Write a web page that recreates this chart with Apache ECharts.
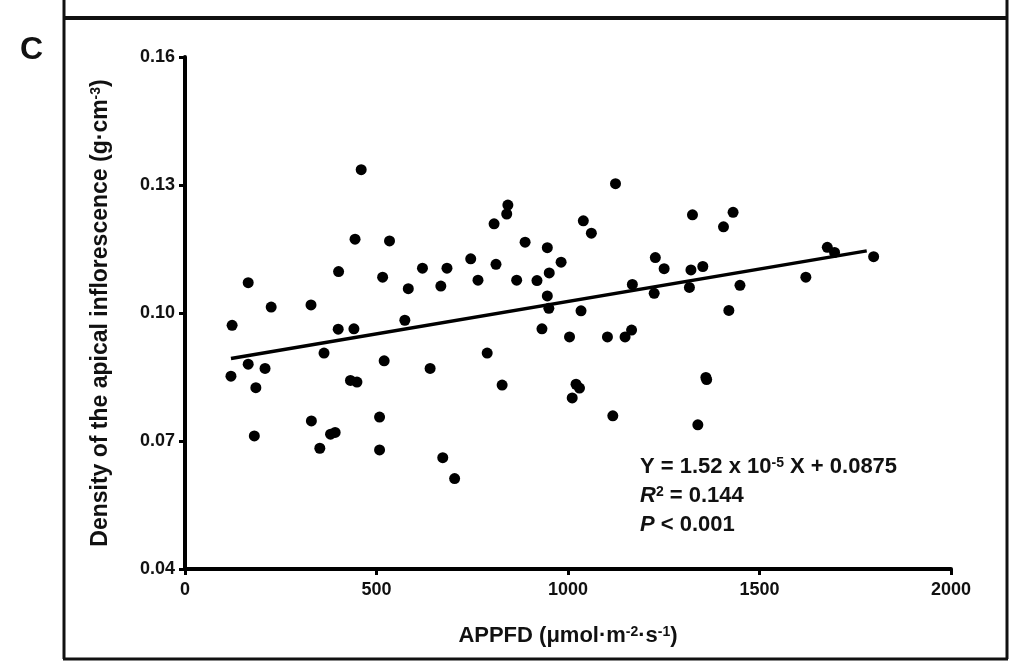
<!DOCTYPE html>
<html>
<head>
<meta charset="utf-8">
<script src="https://cdn.jsdelivr.net/npm/echarts@6/dist/echarts.min.js"></script>
<style>
html,body{margin:0;padding:0;background:#fff;}
#chart{width:1013px;height:671px;}
</style>
</head>
<body>
<div id="chart"></div>
<script>
// APPFD (x) values of the points
var appfd = [123,120,165,165,185,181,209,225,329,330,352,363,380,392,401,400,432,449,444,441,460,516,520,508,508,534,574,583,620,640,668,684,673,704,746,765,789,807,812,828,840,843,866,888,919,932,946,946,950,951,982,1004,1011,1021,1030,1034,1040,1061,1103,1117,1124,1149,1166,1168,1225,1228,1251,1317,1321,1325,1339,1352,1360,1362,1420,1406,1431,1449,1621,1677,1696,1798];
// Density of the apical inflorescence (y)
var density = [0.0971,0.0852,0.1071,0.0880,0.0825,0.0712,0.0870,0.1014,0.1019,0.0747,0.0683,0.0906,0.0716,0.0720,0.1097,0.0962,0.0842,0.0838,0.1173,0.0963,0.1336,0.1084,0.0888,0.0756,0.0679,0.1169,0.0983,0.1057,0.1105,0.0870,0.1063,0.1105,0.0661,0.0612,0.1127,0.1077,0.0906,0.1209,0.1114,0.0831,0.1232,0.1253,0.1077,0.1166,0.1076,0.0963,0.1153,0.1040,0.1011,0.1094,0.1119,0.0944,0.0801,0.0833,0.0824,0.1005,0.1216,0.1187,0.0944,0.0759,0.1303,0.0944,0.0960,0.1067,0.1046,0.1130,0.1104,0.1060,0.1101,0.1230,0.0738,0.1109,0.0849,0.0844,0.1006,0.1202,0.1236,0.1065,0.1084,0.1154,0.1142,0.1132];
// Regression line
var fitSlope = 1.52e-5;
var fitIntercept = 0.0875;
var fitRange = [120, 1780];
// Tick labels
var xTicks = [0, 500, 1000, 1500, 2000];
var yTicks = [0.04, 0.07, 0.10, 0.13, 0.16];
var panelLabel = 'C';
var eqLines = ['Y = 1.52 x 10{sup|-5} X + 0.0875', '{it|R}{sup|2} = 0.144', '{it|P} < 0.001'];

var FONT = '"Liberation Sans", Arial, sans-serif';
var points = appfd.map(function (x, i) { return [x, density[i]]; });
var fitLine = fitRange.map(function (x) { return [x, fitIntercept + fitSlope * x]; });

var supStyle = { fontSize: 14, fontWeight: 'bold', fontFamily: FONT, verticalAlign: 'top', color: '#111' };
var itStyle = { fontSize: 22, fontWeight: 'bold', fontStyle: 'italic', fontFamily: FONT, color: '#111' };

var chart = echarts.init(document.getElementById('chart'), null, { renderer: 'canvas' });
chart.setOption({
  animation: false,
  backgroundColor: '#fff',
  grid: { left: 185, right: 62, top: 57, bottom: 102, containLabel: false, outerBoundsMode: 'none' },
  xAxis: {
    type: 'value', min: xTicks[0], max: xTicks[xTicks.length - 1], interval: 500,
    axisLine: { show: true, lineStyle: { color: '#000', width: 4 } },
    axisTick: { show: true, length: 6, lineStyle: { color: '#000', width: 3 } },
    splitLine: { show: false },
    axisLabel: { color: '#111', fontFamily: FONT, fontWeight: 'bold', fontSize: 18, margin: 12,
      formatter: function (v) { return String(v); } },
    name: 'APPFD (μmol·m{sup|-2}·s{sup|-1})',
    nameLocation: 'middle', nameGap: 56,
    nameTextStyle: { color: '#111', fontFamily: FONT, fontWeight: 'bold', fontSize: 22,
      rich: { sup: { fontSize: 14, fontWeight: 'bold', fontFamily: FONT, verticalAlign: 'top', color: '#111' } } }
  },
  yAxis: {
    type: 'value', min: yTicks[0], max: yTicks[yTicks.length - 1],
    axisLine: { show: true, lineStyle: { color: '#000', width: 4 } },
    axisTick: { show: true, length: 6, lineStyle: { color: '#000', width: 3 }, customValues: yTicks },
    splitLine: { show: false },
    axisLabel: { color: '#111', fontFamily: FONT, fontWeight: 'bold', fontSize: 18, margin: 10,
      customValues: yTicks, formatter: function (v) { return v.toFixed(2); } },
    name: 'Density of the apical inflorescence (g·cm{sup|-3})',
    nameLocation: 'middle', nameGap: 73, nameRotate: 90,
    nameTextStyle: { color: '#111', fontFamily: FONT, fontWeight: 'bold', fontSize: 23,
      rich: { sup: { fontSize: 14, fontWeight: 'bold', fontFamily: FONT, verticalAlign: 'top', color: '#111' } } }
  },
  series: [
    {
      type: 'scatter', data: points, symbol: 'circle', symbolSize: 11,
      itemStyle: { color: '#000', opacity: 1 }, z: 3
    },
    {
      type: 'line', data: fitLine, symbol: 'none', lineStyle: { color: '#000', width: 3.5 }, z: 4
    }
  ],
  graphic: [
    { type: 'line', shape: { x1: 64, y1: 0, x2: 64, y2: 659 }, style: { stroke: '#111', lineWidth: 3 } },
    { type: 'line', shape: { x1: 1007, y1: 0, x2: 1007, y2: 659 }, style: { stroke: '#111', lineWidth: 3 } },
    { type: 'line', shape: { x1: 63, y1: 18, x2: 1008, y2: 18 }, style: { stroke: '#111', lineWidth: 4 } },
    { type: 'line', shape: { x1: 63, y1: 659, x2: 1008, y2: 659 }, style: { stroke: '#111', lineWidth: 3 } },
    { type: 'text', left: 20, top: 34, style: { text: panelLabel, fontFamily: FONT, fontWeight: 'bold', fontSize: 32, fill: '#111' } },
    { type: 'text', left: 640, top: 456, style: { text: eqLines[0], fontFamily: FONT, fontWeight: 'bold', fontSize: 22, fill: '#111',
      rich: { sup: supStyle } } },
    { type: 'text', left: 640, top: 485, style: { text: eqLines[1], fontFamily: FONT, fontWeight: 'bold', fontSize: 22, fill: '#111',
      rich: { sup: supStyle, it: itStyle } } },
    { type: 'text', left: 640, top: 514, style: { text: eqLines[2], fontFamily: FONT, fontWeight: 'bold', fontSize: 22, fill: '#111',
      rich: { it: itStyle } } }
  ]
});
</script>
</body>
</html>
